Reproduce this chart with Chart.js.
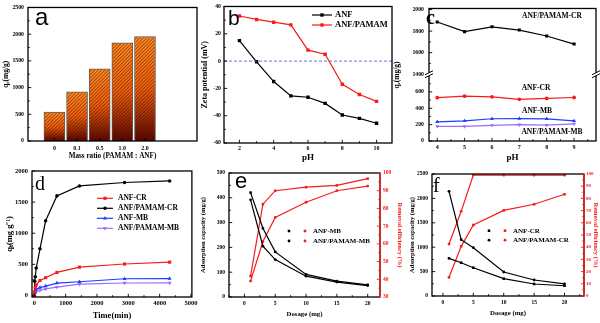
<!DOCTYPE html>
<html><head><meta charset="utf-8">
<script src="https://cdn.jsdelivr.net/npm/chart.js@4/dist/chart.umd.min.js"></script>
<style>
html,body{margin:0;padding:0;background:#fff;}
#wrap{position:relative;width:600px;height:323px;overflow:hidden;background:#fff;}
canvas{position:absolute;}
</style></head><body><div id="wrap">
<canvas id="cA" width="200" height="162" style="left:0px;top:0px"></canvas>
<canvas id="cB" width="202" height="166" style="left:198px;top:0px"></canvas>
<canvas id="cC" width="208" height="166" style="left:392px;top:0px"></canvas>
<canvas id="cD" width="200" height="161" style="left:0px;top:162px"></canvas>
<canvas id="cE" width="210" height="161" style="left:198px;top:162px"></canvas>
<canvas id="cF" width="200" height="161" style="left:400px;top:162px"></canvas>
</div>
<script>
// ---------------- DATA ----------------
const massRatios = ['0', '0.1', '0.5', '1.0', '2.0'];
const qeByRatio = [540, 920, 1350, 1840, 1955];

const phB = [2, 3, 4, 5, 6, 7, 8, 9, 10];
const zetaANF = [15, -0.5, -15, -25.5, -26.5, -31, -39.5, -42, -45.5];
const zetaANFPAMAM = [33, 30.5, 28.5, 26.5, 8, 5, -17, -24.5, -29.5];

const phC = [4, 5, 6, 7, 8, 9];
const qePamamCR = [1885, 1795, 1840, 1810, 1755, 1680];
const qeAnfCR = [530, 548, 540, 510, 520, 532];
const qeAnfMB = [235, 245, 272, 273, 270, 245];
const qePamamMB = [180, 178, 192, 200, 195, 210];

const timeMin = [0, 10, 30, 60, 180, 360, 720, 1440, 2880, 4320];
const qtAnfCR = [0, 60, 130, 170, 240, 285, 370, 455, 505, 535];
const qtPamamCR = [0, 230, 300, 440, 750, 1200, 1600, 1760, 1815, 1840];
const qtAnfMB = [0, 40, 70, 100, 125, 150, 198, 220, 268, 270];
const qtPamamMB = [0, 20, 45, 60, 80, 105, 135, 182, 200, 202];

const dosage = [1, 3, 5, 10, 15, 20];
const capAnfMB = [421, 277, 182, 91, 64, 49];
const capPamamMB = [392, 205, 151, 84, 60, 46];
const remAnfMB = [41.8, 82.4, 90, 92, 93, 96.8];
const remPamamMB = [39, 61.3, 74.9, 83.5, 90, 92.6];
const capAnfCR = [772, 682, 580, 355, 246, 210];
const capPamamCR = [2145, 1154, 990, 492, 328, 250];
const remAnfCR = [15.3, 40.7, 58.2, 70.2, 75.2, 83.4];
const remPamamCR = [42.6, 69.4, 99.2, 99, 99, 99];

// tick values
const ticksA_y = [0, 500, 1000, 1500, 2000, 2500];
const ticksB_x = [2, 4, 6, 8, 10];
const ticksB_y = [-60, -40, -20, 0, 20, 40];
const ticksC_x = [4, 5, 6, 7, 8, 9];
const ticksC_yHi = [1400, 1600, 1800, 2000];
const ticksC_yLo = [0, 200, 400, 600];
const ticksD_x = [0, 1000, 2000, 3000, 4000, 5000];
const ticksD_y = [0, 500, 1000, 1500, 2000];
const ticksEF_x = [0, 5, 10, 15, 20];
const ticksE_y = [0, 100, 200, 300, 400, 500];
const ticksE_r = [30, 40, 50, 60, 70, 80, 90, 100];
const ticksF_y = [0, 500, 1000, 1500, 2000, 2500];
const ticksF_r = [0, 10, 20, 30, 40, 50, 60, 70, 80, 90, 100];

// ---------------- STYLE HELPERS ----------------
const SERIF = "'Liberation Serif','Times New Roman',serif";
const SANS = "'Liberation Sans',Arial,sans-serif";
const RED = '#f41c1c', BLUE = '#1d3cff', PURPLE = '#9d6bff', BLACK = '#000';
function fnt(size, fam = SERIF, weight = 'bold') { return { family: fam, size: size, weight: weight, lineHeight: 1.2 }; }

function axis(o) {
  const a = {
    type: 'linear', position: o.pos, min: o.min, max: o.max,
    grid: { display: false, drawTicks: false }, border: { display: false },
    ticks: { autoSkip: false, maxRotation: 0, font: o.tickFont, color: o.color || '#000', padding: o.tickPad,
      callback: o.fmt || (v => String(v)) },
    title: o.title ? { display: true, text: o.title, font: o.titleFont, color: o.color || '#000', padding: o.titlePad } : { display: false },
    afterBuildTicks: s => { s.ticks = o.ticksArr.map(v => ({ value: v })); },
    afterFit: s => { if (s.isHorizontal()) s.height = o.size; else s.width = o.size; }
  };
  if (o.stack) { a.stack = o.stack; a.stackWeight = o.weight; }
  return a;
}

function series(label, xs, ys, color, style, extra) {
  return Object.assign({
    label: label, data: xs.map((x, i) => ({ x: x, y: ys[i] })),
    borderColor: color, backgroundColor: color, borderWidth: 1.2,
    pointStyle: style, pointRadius: 2.2, pointBackgroundColor: color, pointBorderColor: color,
    pointBorderWidth: 0, tension: 0, fill: false
  }, extra || {});
}

function drawMark(ctx, style, r, x, y, color, rot) {
  ctx.save(); ctx.fillStyle = color; ctx.beginPath();
  if (style === 'rect') { const s = r * Math.SQRT1_2; ctx.rect(x - s, y - s, 2 * s, 2 * s); }
  else if (style === 'triangle') {
    const d = rot === 180 ? -1 : 1;
    ctx.moveTo(x, y - d * r); ctx.lineTo(x + r * 0.87, y + d * r * 0.5); ctx.lineTo(x - r * 0.87, y + d * r * 0.5); ctx.closePath();
  } else { ctx.arc(x, y, r, 0, Math.PI * 2); }
  ctx.fill(); ctx.restore();
}

const deco = {
  id: 'deco',
  afterDatasetsDraw(chart, args, o) {
    const ctx = chart.ctx;
    if (o.hatch) {
      chart.getDatasetMeta(0).data.forEach(b => {
        const x0 = b.x - b.width / 2, y0 = b.y, w = b.width, h = b.base - b.y;
        ctx.save(); ctx.beginPath(); ctx.rect(x0 + 0.8, y0 + 0.8, w - 1.6, h - 1.6); ctx.clip();
        ctx.strokeStyle = 'rgba(60,8,0,0.72)'; ctx.lineWidth = 0.8;
        for (let k = -h; k < w + h; k += 3.4) {
          ctx.beginPath(); ctx.moveTo(x0 + k, b.base); ctx.lineTo(x0 + k + h, y0); ctx.stroke();
        }
        ctx.restore();
      });
    }
  },
  afterDraw(chart, args, o) {
    const ctx = chart.ctx, a = chart.chartArea;
    ctx.save();
    if (o.zeroLine) {
      const y = chart.scales.y.getPixelForValue(0);
      ctx.strokeStyle = '#4e6ad8'; ctx.lineWidth = 0.9; ctx.setLineDash([3, 2]);
      ctx.beginPath(); ctx.moveTo(a.left, y); ctx.lineTo(a.right, y); ctx.stroke(); ctx.setLineDash([]);
    }
    ctx.lineWidth = 1.3; ctx.strokeStyle = '#000';
    ctx.strokeRect(a.left, a.top, a.right - a.left, a.bottom - a.top);
    if (o.rightColor) {
      ctx.strokeStyle = o.rightColor; ctx.beginPath(); ctx.moveTo(a.right, a.top); ctx.lineTo(a.right, a.bottom); ctx.stroke();
    }
    ctx.lineWidth = 0.9;
    Object.values(chart.scales).forEach(s => {
      if (!s.ticks || !s.ticks.length) return;
      const col = (o.tickColors && o.tickColors[s.id]) || '#000';
      ctx.strokeStyle = col;
      const pos = s.ticks.map(t => s.getPixelForValue(t.value));
      const minor = [];
      if (!(o.noMinor && o.noMinor.includes(s.id))) {
        for (let i = 0; i < pos.length - 1; i++) minor.push((pos[i] + pos[i + 1]) / 2);
        if (pos.length > 1) {
          const st = pos[1] - pos[0], e = pos[pos.length - 1] - pos[pos.length - 2];
          minor.push(pos[0] - st / 2, pos[pos.length - 1] + e / 2);
        }
      }
      const draw = (p, L) => {
        if (!isFinite(p)) return;
        ctx.beginPath();
        if (s.isHorizontal()) { if (p < a.left - 0.5 || p > a.right + 0.5) return; ctx.moveTo(p, a.bottom); ctx.lineTo(p, a.bottom - L); }
        else {
          if (p < s.top - 0.5 || p > s.bottom + 0.5) return;
          if (s.position === 'right') { ctx.moveTo(a.right, p); ctx.lineTo(a.right - L, p); }
          else { ctx.moveTo(a.left, p); ctx.lineTo(a.left + L, p); }
        }
        ctx.stroke();
      };
      pos.forEach(p => draw(p, 3.2));
      minor.forEach(p => draw(p, 1.8));
    });
    if (o.breakScale) {
      const y = chart.scales[o.breakScale].top;
      [a.left, a.right].forEach(x => {
        ctx.fillStyle = '#fff'; ctx.fillRect(x - 4, y - 1.5, 8, 3);
        ctx.strokeStyle = '#000'; ctx.lineWidth = 1;
        [-1.5, 1.5].forEach(d => { ctx.beginPath(); ctx.moveTo(x - 4, y + d + 2); ctx.lineTo(x + 4, y + d - 2); ctx.stroke(); });
      });
    }
    if (o.legend) {
      const L = o.legend;
      ctx.font = 'bold ' + L.size + 'px ' + SERIF; ctx.textBaseline = 'middle'; ctx.textAlign = 'left';
      L.items.forEach((it, i) => {
        const y = L.y - o.oy + i * L.dy;
        it.ds.forEach((di, j) => {
          const ds = chart.data.datasets[di];
          const mx = (L.mx[j] !== undefined ? L.mx[j] : L.mx[0]) - o.ox;
          if (L.len) {
            ctx.strokeStyle = ds.borderColor; ctx.lineWidth = ds.borderWidth;
            ctx.beginPath(); ctx.moveTo(mx - L.len / 2, y); ctx.lineTo(mx + L.len / 2, y); ctx.stroke();
          }
          drawMark(ctx, ds.pointStyle, ds.pointRadius, mx, y, ds.borderColor, ds.pointRotation);
        });
        ctx.fillStyle = '#000'; ctx.fillText(it.label, L.tx - o.ox, y);
      });
    }
    (o.texts || []).forEach(t => {
      ctx.save();
      ctx.font = t.font; ctx.fillStyle = t.color || '#000';
      ctx.textAlign = t.align || 'left'; ctx.textBaseline = t.base || 'alphabetic';
      if (t.rot) { ctx.translate(t.x - o.ox, t.y - o.oy); ctx.rotate(t.rot); ctx.fillText(t.t, 0, 0); }
      else ctx.fillText(t.t, t.x - o.ox, t.y - o.oy);
      ctx.restore();
    });
    ctx.restore();
  }
};
Chart.register(deco);

function baseOpts(pad, scales, decoOpts) {
  return {
    responsive: false, animation: false, devicePixelRatio: 1,
    layout: { padding: pad },
    scales: scales,
    plugins: { legend: { display: false }, tooltip: { enabled: false }, deco: decoOpts }
  };
}

// ---------------- PANEL A ----------------
new Chart(document.getElementById('cA'), {
  type: 'bar',
  data: { datasets: [{
    data: qeByRatio.map((v, i) => ({ x: i, y: v })),
    barThickness: 21, borderWidth: 1, borderColor: '#5a5a5a',
    backgroundColor: c => {
      const ch = c.chart, ys = ch.scales && ch.scales.y;
      if (!ys || !c.parsed) return '#f06010';
      const top = ys.getPixelForValue(c.parsed.y), bot = ys.getPixelForValue(0);
      if (!isFinite(top) || !isFinite(bot) || top === bot) return '#f06010';
      const g = ch.ctx.createLinearGradient(0, top, 0, bot);
      g.addColorStop(0, '#ff8c20'); g.addColorStop(0.5, '#f0600c'); g.addColorStop(1, '#5a0500');
      return g;
    }
  }] },
  options: baseOpts({ left: 0, top: 6, right: 3, bottom: 0 }, {
    x: axis({ pos: 'bottom', min: -0.42, max: 5.55, ticksArr: [0, 1, 2, 3, 4], fmt: (v) => massRatios[v],
      tickFont: fnt(6), tickPad: 4, title: 'Mass ratio (PAMAM : ANF)', titleFont: fnt(7.2), titlePad: { top: 0, bottom: 1.5 }, size: 21 }),
    y: axis({ pos: 'left', min: 0, max: 2500, ticksArr: ticksA_y, tickFont: fnt(5.8), tickPad: 4,
      title: 'qₑ(mg/g)', titleFont: fnt(7.5), titlePad: { top: 1.5, bottom: 0 }, size: 28 })
  }, { ox: 0, oy: 0, hatch: true, noMinor: ['x'],
    texts: [{ t: 'a', x: 35, y: 25, font: '24px ' + SANS }] })
});

// ---------------- PANEL B ----------------
new Chart(document.getElementById('cB'), {
  type: 'line',
  data: { datasets: [
    series('ANF', phB, zetaANF, BLACK, 'rect', { pointRadius: 2.4 }),
    series('ANF/PAMAM', phB, zetaANFPAMAM, RED, 'rect', { pointRadius: 2.4 })
  ] },
  options: baseOpts({ left: 0, top: 6, right: 8, bottom: 0 }, {
    x: axis({ pos: 'bottom', min: 1.1, max: 10.9, ticksArr: ticksB_x, tickFont: fnt(6), tickPad: 2,
      title: 'pH', titleFont: fnt(9), titlePad: { top: 0, bottom: 2.5 }, size: 23 }),
    y: axis({ pos: 'left', min: -60, max: 40, ticksArr: ticksB_y, tickFont: fnt(5.8), tickPad: 3,
      title: 'Zeta potential (mV)', titleFont: fnt(8), titlePad: { top: 2, bottom: 0 }, size: 26 })
  }, { ox: 198, oy: 0, zeroLine: true,
    legend: { size: 8.5, y: 15, dy: 10, mx: [322], len: 20, tx: 335, items: [{ label: 'ANF', ds: [0] }, { label: 'ANF/PAMAM', ds: [1] }] },
    texts: [{ t: 'b', x: 228, y: 25, font: '21px ' + SANS }] })
});

// ---------------- PANEL C ----------------
new Chart(document.getElementById('cC'), {
  type: 'line',
  data: { datasets: [
    series('ANF/PAMAM-CR', phC, qePamamCR, BLACK, 'rect', { yAxisID: 'yHi', pointRadius: 2.2 }),
    series('ANF-CR', phC, qeAnfCR, RED, 'circle', { yAxisID: 'yLo', pointRadius: 1.9 }),
    series('ANF-MB', phC, qeAnfMB, BLUE, 'triangle', { yAxisID: 'yLo', pointRadius: 2.3 }),
    series('ANF/PAMAM-MB', phC, qePamamMB, PURPLE, 'triangle', { yAxisID: 'yLo', pointRadius: 2.3, pointRotation: 180 })
  ] },
  options: baseOpts({ left: 0, top: 6, right: 3, bottom: 0 }, {
    x: axis({ pos: 'bottom', min: 3.7, max: 9.8, ticksArr: ticksC_x, tickFont: fnt(6), tickPad: 3,
      title: 'pH', titleFont: fnt(9), titlePad: { top: 0, bottom: 2.5 }, size: 25 }),
    yLo: axis({ pos: 'left', min: 0, max: 816, ticksArr: ticksC_yLo, tickFont: fnt(5.8), tickPad: 5,
      title: '', size: 37, stack: 'cs', weight: 68 }),
    yHi: axis({ pos: 'left', min: 1400, max: 2010, ticksArr: ticksC_yHi, tickFont: fnt(5.8), tickPad: 5,
      title: '', size: 37, stack: 'cs', weight: 67 })
  }, { ox: 392, oy: 0, breakScale: 'yLo',
    texts: [
      { t: 'c', x: 426, y: 24, font: 'bold 20px ' + SERIF },
      { t: 'ANF/PAMAM-CR', x: 552, y: 18, font: 'bold 7.5px ' + SERIF, align: 'center' },
      { t: 'ANF-CR', x: 536, y: 90, font: 'bold 7.5px ' + SERIF, align: 'center' },
      { t: 'ANF-MB', x: 537, y: 113, font: 'bold 7.5px ' + SERIF, align: 'center' },
      { t: 'ANF/PAMAM-MB', x: 552, y: 134, font: 'bold 7.5px ' + SERIF, align: 'center' },
      { t: 'qₑ(mg/g)', x: 397, y: 75, font: 'bold 7.5px ' + SERIF, align: 'center', base: 'middle', rot: -Math.PI / 2 }
    ] })
});

// ---------------- PANEL D ----------------
new Chart(document.getElementById('cD'), {
  type: 'line',
  data: { datasets: [
    series('ANF-CR', timeMin, qtAnfCR, RED, 'rect', { pointRadius: 2.2 }),
    series('ANF/PAMAM-CR', timeMin, qtPamamCR, BLACK, 'circle', { pointRadius: 1.8 }),
    series('ANF-MB', timeMin, qtAnfMB, BLUE, 'triangle', { pointRadius: 2.3 }),
    series('ANF/PAMAM-MB', timeMin, qtPamamMB, PURPLE, 'triangle', { pointRadius: 2.3, pointRotation: 180 })
  ] },
  options: baseOpts({ left: 0, top: 9, right: 8, bottom: 0 }, {
    x: axis({ pos: 'bottom', min: -75, max: 5030, ticksArr: ticksD_x, tickFont: fnt(6.5), tickPad: 2.5,
      title: 'Time(min)', titleFont: fnt(8.5), titlePad: { top: 0, bottom: 2.5 }, size: 26 }),
    y: axis({ pos: 'left', min: -25, max: 2000, ticksArr: ticksD_y, tickFont: fnt(6.5), tickPad: 4,
      title: 'qₜ(mg g⁻¹)', titleFont: fnt(8.5), titlePad: { top: 4.5, bottom: 0 }, size: 32 })
  }, { ox: 0, oy: 162,
    legend: { size: 7.5, y: 198.3, dy: 10, mx: [105], len: 16, tx: 118,
      items: [{ label: 'ANF-CR', ds: [0] }, { label: 'ANF/PAMAM-CR', ds: [1] }, { label: 'ANF-MB', ds: [2] }, { label: 'ANF/PAMAM-MB', ds: [3] }] },
    texts: [{ t: 'd', x: 35, y: 190, font: '20px ' + SERIF }] })
});

// ---------------- PANEL E ----------------
new Chart(document.getElementById('cE'), {
  type: 'line',
  data: { datasets: [
    series('ANF-MB', dosage, capAnfMB, BLACK, 'rect', { yAxisID: 'y', pointRadius: 1.8 }),
    series('ANF/PAMAM-MB', dosage, capPamamMB, BLACK, 'circle', { yAxisID: 'y', pointRadius: 1.4 }),
    series('ANF-MB', dosage, remAnfMB, RED, 'rect', { yAxisID: 'yR', pointRadius: 1.8 }),
    series('ANF/PAMAM-MB', dosage, remPamamMB, RED, 'circle', { yAxisID: 'yR', pointRadius: 1.4 })
  ] },
  options: baseOpts({ left: 0, top: 11, right: 0, bottom: 0 }, {
    x: axis({ pos: 'bottom', min: -2.5, max: 22, ticksArr: ticksEF_x, tickFont: fnt(5.5), tickPad: 3.5,
      title: 'Dosage (mg)', titleFont: fnt(6.8), titlePad: { top: 0, bottom: 5 }, size: 26 }),
    y: axis({ pos: 'left', min: 0, max: 500, ticksArr: ticksE_y, tickFont: fnt(5.5), tickPad: 4,
      title: 'Adsorption capacity (mg/g)', titleFont: fnt(6.5), titlePad: { top: 1, bottom: 0 }, size: 31 }),
    yR: axis({ pos: 'right', min: 30, max: 100, ticksArr: ticksE_r, tickFont: fnt(5.5), tickPad: 3, color: RED,
      title: 'Removal efficiency (%)', titleFont: fnt(6.5), titlePad: { top: 4.5, bottom: 0 }, size: 28 })
  }, { ox: 198, oy: 162, rightColor: RED, tickColors: { yR: RED },
    legend: { size: 7, y: 231, dy: 10, mx: [289, 305], len: 0, tx: 313,
      items: [{ label: 'ANF-MB', ds: [0, 2] }, { label: 'ANF/PAMAM-MB', ds: [1, 3] }] },
    texts: [{ t: 'e', x: 235, y: 188, font: '22px ' + SANS }] })
});

// ---------------- PANEL F ----------------
new Chart(document.getElementById('cF'), {
  type: 'line',
  data: { datasets: [
    series('ANF-CR', dosage, capAnfCR, BLACK, 'rect', { yAxisID: 'y', pointRadius: 1.8 }),
    series('ANF/PAMAM-CR', dosage, capPamamCR, BLACK, 'circle', { yAxisID: 'y', pointRadius: 1.4 }),
    series('ANF-CR', dosage, remAnfCR, RED, 'rect', { yAxisID: 'yR', pointRadius: 1.8 }),
    series('ANF/PAMAM-CR', dosage, remPamamCR, RED, 'circle', { yAxisID: 'yR', pointRadius: 1.4 })
  ] },
  options: baseOpts({ left: 0, top: 12, right: 0, bottom: 0 }, {
    x: axis({ pos: 'bottom', min: -1.8, max: 23.2, ticksArr: ticksEF_x, tickFont: fnt(5.5), tickPad: 3.5,
      title: 'Dosage (mg)', titleFont: fnt(6.8), titlePad: { top: 0, bottom: 6 }, size: 27 }),
    y: axis({ pos: 'left', min: 0, max: 2500, ticksArr: ticksF_y, tickFont: fnt(5.5), tickPad: 4,
      title: 'Adsorption capacity (mg/g)', titleFont: fnt(6.5), titlePad: { top: 8, bottom: 0 }, size: 32 }),
    yR: axis({ pos: 'right', min: 0, max: 100, ticksArr: ticksF_r, tickFont: fnt(5), tickPad: 2, color: RED,
      title: 'Removal efficiency (%)', titleFont: fnt(6.5), titlePad: { top: 0, bottom: 0 }, size: 16 })
  }, { ox: 400, oy: 162, rightColor: RED, tickColors: { yR: RED },
    legend: { size: 7, y: 230.7, dy: 9.5, mx: [489, 505], len: 0, tx: 513,
      items: [{ label: 'ANF-CR', ds: [0, 2] }, { label: 'ANF/PAMAM-CR', ds: [1, 3] }] },
    texts: [{ t: 'f', x: 433, y: 192, font: '20px ' + SERIF }] })
});
</script>
</body></html>
